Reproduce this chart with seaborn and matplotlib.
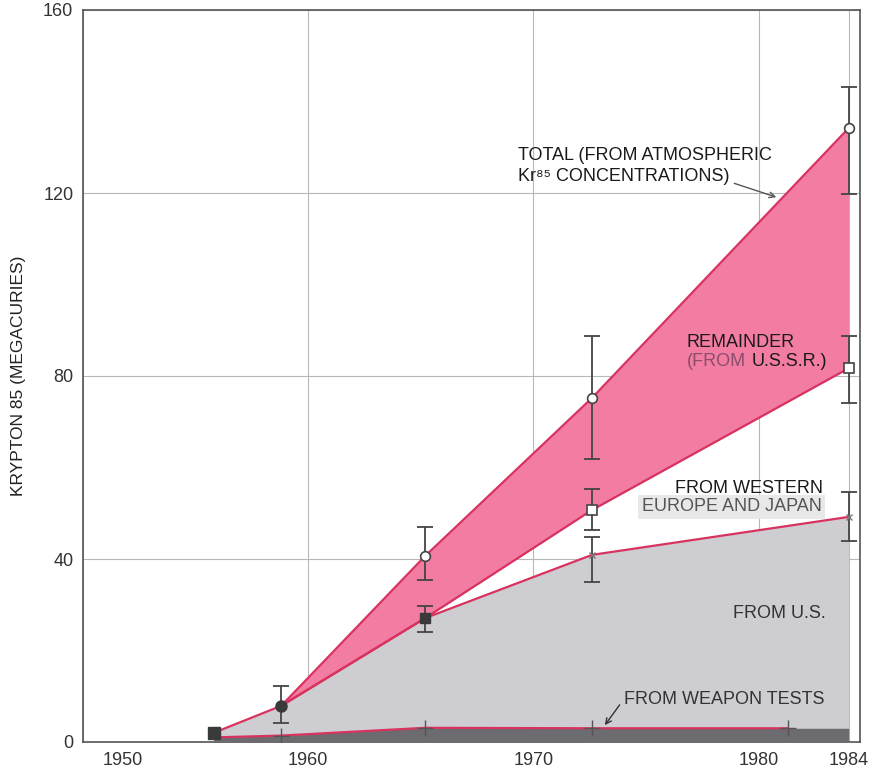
import numpy as np
import pandas as pd
import matplotlib
matplotlib.use("Agg")
import matplotlib.pyplot as plt
import matplotlib.transforms as mtrans
import seaborn as sns

# values (megacuries, cumulative)
years_total = [1958.8, 1965.2, 1972.6, 1984.0]
total = [7.9, 40.7, 75.2, 134.2]
total_lo = [4.2, 35.4, 61.9, 119.8]
total_hi = [12.2, 47.0, 88.7, 143.2]

years_west = [1958.8, 1965.2, 1972.6, 1984.0]
west = [7.9, 27.1, 50.7, 81.7]
west_lo = [np.nan, 24.0, 46.3, 74.1]
west_hi = [np.nan, 29.7, 55.3, 88.7]

years_us = [1955.8, 1958.8, 1965.2, 1972.6, 1984.0]
us = [2.0, 7.9, 27.1, 40.9, 49.2]
us_lo = [np.nan, np.nan, np.nan, 35.0, 43.9]
us_hi = [np.nan, np.nan, np.nan, 44.8, 54.6]

years_weapon = [1955.8, 1958.8, 1965.2, 1972.6, 1981.3, 1984.0]
weapon = [1.0, 1.4, 3.1, 3.0, 3.0, 3.0]

x_ticks = [1950, 1960, 1970, 1980, 1984]
y_ticks = [0, 40, 80, 120, 160]

PINK = "#f27ca2"
PINK_LINE = "#d8325e"
GRAY = "#cdcdd2"
DARK = "#6c6c70"
INK = "#444444"

sns.set_style("white")
plt.rcParams["font.family"] = ["Liberation Sans", "DejaVu Sans"]

fig = plt.figure(figsize=(8.81, 7.7), dpi=100)
ax = fig.add_axes([83 / 881, 28 / 770, 777 / 881, 732 / 770])

# fills
ax.fill_between(years_us, 0, us, color=GRAY, lw=0, zorder=2)
ax.fill_between(years_total, west, total, color=PINK, lw=0, zorder=2)
ax.fill_between(years_weapon, 0, weapon, color=DARK, lw=0, zorder=3)

# boundary lines
lines = pd.concat([
    pd.DataFrame({"year": years_total, "val": total, "s": "total"}),
    pd.DataFrame({"year": years_west, "val": west, "s": "west"}),
    pd.DataFrame({"year": years_us, "val": us, "s": "us"}),
    pd.DataFrame({"year": years_weapon[:-1], "val": weapon[:-1], "s": "weapon"}),
])
sns.lineplot(data=lines, x="year", y="val", units="s", estimator=None, sort=False,
             color=PINK_LINE, lw=1.6, ax=ax, zorder=4, legend=False)

# error bars
def bars(xs, ys, lo, hi):
    ys = np.array(ys, float)
    err = np.array([ys - np.array(lo, float), np.array(hi, float) - ys])
    ax.errorbar(xs, ys, yerr=err, fmt="none", ecolor=INK, elinewidth=1.3,
                capsize=6, capthick=1.3, zorder=5)

bars(years_total, total, total_lo, total_hi)
bars(years_west, west, west_lo, west_hi)
bars(years_us, us, us_lo, us_hi)

# markers
ax.plot(years_total[1:], total[1:], "o", ms=7, mfc="white", mec=INK, mew=1.2, zorder=6)
ax.plot(years_total[0], total[0], "o", ms=8, mfc="#3a3a3a", mec="#3a3a3a", zorder=6)
ax.plot(years_west[2:], west[2:], "s", ms=7, mfc="white", mec=INK, mew=1.2, zorder=6)
ax.plot(years_west[1], west[1], "s", ms=7, mfc="#3a3a3a", mec="#3a3a3a", zorder=6)
ax.plot(years_us[0], us[0], "s", ms=8, mfc="#3a3a3a", mec="#3a3a3a", zorder=6)
ax.plot(years_us[3:], us[3:], "x", ms=5, mec="#777777", mew=1.0, zorder=6)
ax.plot(years_weapon[1:-1], weapon[1:-1], "+", ms=12, mec="#555555", mew=1.0, zorder=6)

# axes
ax.set_xlim(1950, 1984.5)
ax.set_ylim(0, 160)
ax.set_xticks(x_ticks)
ax.set_yticks(y_ticks)
ax.tick_params(length=0, labelsize=13, colors="#333333", pad=7)
ax.grid(True, color="#b8b8b8", lw=0.8)
ax.set_axisbelow(True)
for s in ax.spines.values():
    s.set_color("#555555")
    s.set_linewidth(1.2)
ax.set_xlabel("")
ax.set_ylabel("KRYPTON 85 (MEGACURIES)", fontsize=12.5, color="#222222", labelpad=12)
lbl = ax.get_xticklabels()[0]
lbl.set_transform(lbl.get_transform() + mtrans.ScaledTranslation(0.4, 0, fig.dpi_scale_trans))

# annotations
tk = dict(fontsize=13, color="#1a1a1a", va="center", ha="left", zorder=7)
ax.text(1969.3, 125.9, "TOTAL (FROM ATMOSPHERIC\nKr⁸⁵ CONCENTRATIONS)", linespacing=1.25, **tk)
ax.annotate("", xy=(1980.9, 118.9), xytext=(1978.8, 122.3),
            arrowprops=dict(arrowstyle="->", color="#555555", lw=1.0), zorder=7)
ax.text(1976.8, 87.4, "REMAINDER", **tk)
ax.text(1976.8, 83.1, "(FROM", **{**tk, "color": "#8a4d6c"})
ax.text(1979.7, 83.1, "U.S.S.R.)", **tk)
ax.text(1976.3, 55.5, "FROM WESTERN", **tk)
ax.text(1974.8, 51.4, "EUROPE AND JAPAN", **{**tk, "color": "#555555"},
        bbox=dict(boxstyle="square,pad=0.2", fc="#e8e8e8", ec="none"))
ax.text(1978.85, 28.0, "FROM U.S.", **{**tk, "color": "#333333"})
ax.text(1974.0, 9.2, "FROM WEAPON TESTS", **{**tk, "color": "#333333"})
ax.annotate("", xy=(1973.1, 3.2), xytext=(1973.9, 8.6),
            arrowprops=dict(arrowstyle="->", color="#333333", lw=1.0), zorder=7)

fig.savefig("out.png", dpi=100)
